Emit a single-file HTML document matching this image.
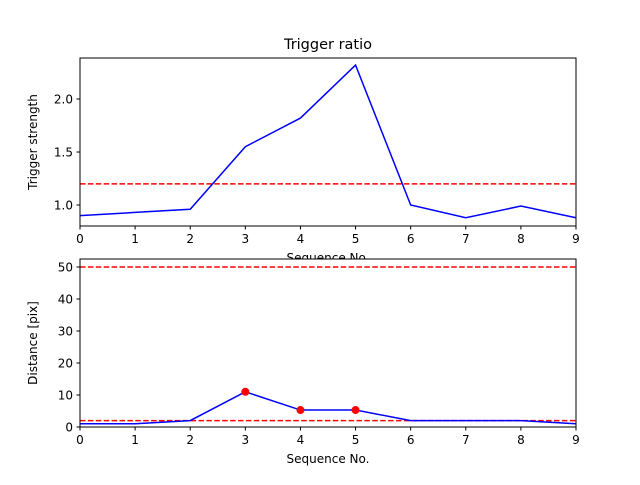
<!DOCTYPE html>
<html><head><meta charset="utf-8"><style>
body{margin:0;background:#fff}
svg{font-family:"DejaVu Sans","Liberation Sans",sans-serif}
</style></head><body>
<svg id="c" width="640" height="480"></svg>
<script>
const xTicks=[0,1,2,3,4,5,6,7,8,9];
const ratioValues=[0.90,0.93,0.96,1.55,1.82,2.32,1.00,0.88,0.99,0.88];
const ratioThreshold=1.2;
const ratioTicks=[1.0,1.5,2.0];
const distValues=[1,1,2,11,5.3,5.3,2,2,2,1];
const distMarked=[3,4,5];
const distThresholds=[2,50];
const distTicks=[0,10,20,30,40,50];
const NS="http://www.w3.org/2000/svg";
const svg=document.getElementById('c');
function mk(t,a,p){const e=document.createElementNS(NS,t);for(const k in a)e.setAttribute(k,a[k]);(p||svg).appendChild(e);return e;}
const X0=80,X1=576;
function xs(v){return X0+(v-0)/9*(X1-X0);}
function panel(top,bot,ymin,ymax,vals,yt,fmt,ylabel,thr,marked,name,title){
  const g=mk('g',{});
  
  
  const ys=v=>bot-(v-ymin)/(ymax-ymin)*(bot-top);
  const bg=mk('rect',{x:X0,y:top,width:X1-X0,height:bot-top,fill:'#fff'},g);
  
  
  thr.forEach(t=>{const l=mk('line',{x1:X0,x2:X1,y1:ys(t),y2:ys(t),stroke:'red','stroke-width':1.5,'stroke-dasharray':'5.5,2.4'},g);
    
    });
  const pl=mk('polyline',{points:vals.map((v,i)=>xs(xTicks[i])+','+ys(v)).join(' '),fill:'none',stroke:'blue','stroke-width':1.5},g);
  
  
  marked.forEach(i=>{const c=mk('circle',{cx:xs(xTicks[i]),cy:ys(vals[i]),r:4,fill:'red'},g);
    
    });
  const fr=mk('rect',{x:X0,y:top,width:X1-X0,height:bot-top,fill:'none',stroke:'#000','stroke-width':1},g);
  
  
  xTicks.forEach(t=>{mk('line',{x1:xs(t),x2:xs(t),y1:bot,y2:bot+3.5,stroke:'#000'},g);
    const tx=mk('text',{x:xs(t),y:bot+17,'font-size':12,'text-anchor':'middle'},g);tx.textContent=t;
    
    });
  yt.forEach(t=>{mk('line',{x1:X0-3.5,x2:X0,y1:ys(t),y2:ys(t),stroke:'#000'},g);
    const tx=mk('text',{x:X0-7,y:ys(t)+4.5,'font-size':12,'text-anchor':'end'},g);tx.textContent=fmt(t);
    
    });
  const xl=mk('text',{x:(X0+X1)/2,y:bot+36,'font-size':12,'text-anchor':'middle'},g);xl.textContent='Sequence No.';
  
  
  const cy=(top+bot)/2;
  const yl=mk('text',{x:37,y:cy,'font-size':12,'text-anchor':'middle',transform:'rotate(-90 37 '+cy+')'},g);yl.textContent=ylabel;
  
  
  if(title){const tt=mk('text',{x:(X0+X1)/2,y:top-9,'font-size':14.5,'text-anchor':'middle'},g);tt.textContent=title;
    
    }
}
panel(58,226,0.802,2.387,ratioValues,ratioTicks,t=>t.toFixed(1),'Trigger strength',[ratioThreshold],[],'trigger-ratio-panel','Trigger ratio');
panel(259,427,0,52.5,distValues,distTicks,t=>String(t),'Distance [pix]',distThresholds,distMarked,'distance-panel',null);
</script>
</body></html>
